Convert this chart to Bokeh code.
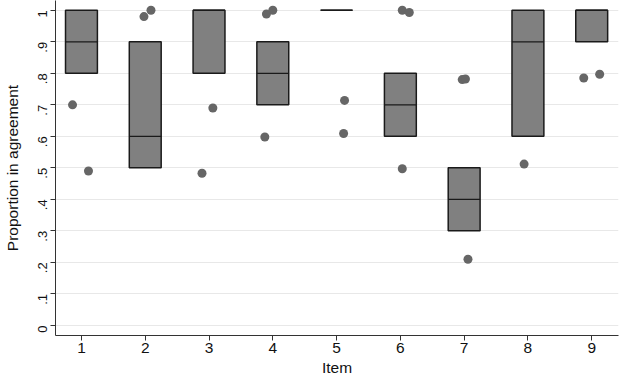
import math
from bokeh.plotting import figure
from bokeh.models import FixedTicker, Range1d
from bokeh.embed import file_html
from bokeh.resources import INLINE

items = [1, 2, 3, 4, 5, 6, 7, 8, 9]
q1 = [0.8, 0.5, 0.8, 0.7, 1.0, 0.6, 0.3, 0.6, 0.9]
median = [0.9, 0.6, 1.0, 0.8, 1.0, 0.7, 0.4, 0.9, 1.0]
q3 = [1.0, 0.9, 1.0, 0.9, 1.0, 0.8, 0.5, 1.0, 1.0]

pt_x = [0.86, 1.11, 1.98, 2.09, 2.89, 3.06, 3.875, 3.9, 4.0,
        5.125, 5.11, 6.03, 6.14, 6.03, 6.97, 7.02, 7.06, 7.94, 8.875, 9.125]
pt_y = [0.70, 0.49, 0.98, 1.0, 0.483, 0.69, 0.598, 0.988, 1.0,
        0.714, 0.609, 1.0, 0.993, 0.497, 0.78, 0.782, 0.21, 0.512, 0.785, 0.797]

y_ticks = [0, 0.1, 0.2, 0.3, 0.4, 0.5, 0.6, 0.7, 0.8, 0.9, 1.0]
y_tick_labels = ["0", ".1", ".2", ".3", ".4", ".5", ".6", ".7", ".8", ".9", "1"]

FONT = "Liberation Sans"
half = 0.25

p = figure(width=619, height=378, output_backend="svg", toolbar_location=None,
           x_range=Range1d(0.593, 9.42), y_range=Range1d(-0.032, 1.031),
           min_border_left=54, min_border_right=1, min_border_top=0, min_border_bottom=42)
p.outline_line_color = None
p.background_fill_color = "white"
p.border_fill_color = "white"

p.xgrid.grid_line_color = None
p.ygrid.grid_line_color = "#e8e8e8"
p.ygrid.grid_line_width = 1
p.ygrid.ticker = FixedTicker(ticks=y_ticks)

left = [i - half for i in items]
right = [i + half for i in items]
p.quad(left=left, right=right, bottom=q1, top=q3,
       fill_color="#808080", line_color="#1a1a1a", line_width=1.5)
p.segment(x0=left, y0=median, x1=right, y1=median, line_color="#1a1a1a", line_width=1.3)
p.scatter(pt_x, pt_y, size=9, fill_color="#666666", line_color=None)

p.xaxis.ticker = FixedTicker(ticks=items)
p.yaxis.ticker = FixedTicker(ticks=y_ticks)
p.yaxis.major_label_overrides = {t: l for t, l in zip(y_ticks, y_tick_labels)}
p.yaxis.major_label_orientation = math.pi / 2
p.xaxis.axis_label = "Item"
p.yaxis.axis_label = "Proportion in agreement"
for ax in (p.xaxis, p.yaxis):
    ax.axis_line_color = "#333333"
    ax.axis_line_width = 1
    ax.major_tick_line_color = "#333333"
    ax.major_tick_out = 5
    ax.major_tick_in = 0
    ax.minor_tick_line_color = None
    ax.major_label_text_font = FONT
    ax.major_label_text_color = "#111111"
    ax.axis_label_text_font = FONT
    ax.axis_label_text_font_style = "normal"
    ax.axis_label_text_color = "#111111"
    ax.axis_label_text_font_size = "15.5px"
p.xaxis.major_label_text_font_size = "15.5px"
p.yaxis.major_label_text_font_size = "13px"
p.xaxis.axis_label_standoff = 3
p.yaxis.axis_label_standoff = 10
p.xaxis.major_label_standoff = 2
p.yaxis.major_label_standoff = 8

open("out.html", "w").write(file_html(p, INLINE))
